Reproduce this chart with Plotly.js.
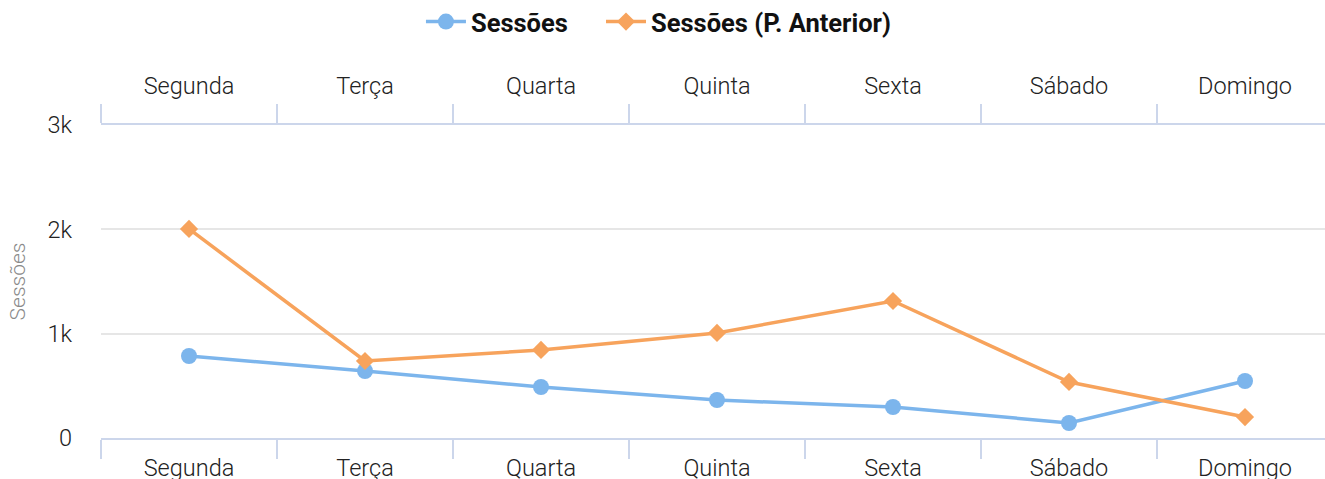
<!DOCTYPE html>
<html>
<head>
<meta charset="utf-8">
<script src="https://cdn.plot.ly/plotly-3.0.1.min.js"></script>
<style>html,body{margin:0;padding:0;background:#fff;}#chart{width:1325px;height:479px;}</style>
</head>
<body>
<div id="chart"></div>
<script>
const categories = ['Segunda','Terça','Quarta','Quinta','Sexta','Sábado','Domingo'];
const sessoes = [786, 642, 489, 364, 297, 144, 546];
const sessoesAnterior = [2004, 738, 844, 1007, 1313, 537, 201];
const yTickVals = [0, 1000, 2000, 3000];
const yTickText = ['0', '1k', '2k', '3k'];
const seriesNames = ['Sessões', 'Sessões (P. Anterior)'];
const yTitle = 'Sessões';

const traces = [
  {
    x: categories, y: sessoes, name: seriesNames[0], type: 'scatter', mode: 'lines+markers',
    line: {color: '#7cb5ec', width: 3.5},
    marker: {symbol: 'circle', size: 16, color: '#7cb5ec'},
    xaxis: 'x', yaxis: 'y', legend: 'legend'
  },
  {
    x: categories, y: sessoesAnterior, name: seriesNames[1], type: 'scatter', mode: 'lines+markers',
    line: {color: '#f7a35c', width: 3.5},
    marker: {symbol: 'diamond', size: 14, color: '#f7a35c'},
    xaxis: 'x', yaxis: 'y', legend: 'legend2'
  },
  {
    x: categories, y: categories.map(() => null), type: 'scatter', mode: 'lines',
    showlegend: false, hoverinfo: 'skip', xaxis: 'x2', yaxis: 'y'
  }
];

const xRange = [-0.5, 6.4545];
const tickFont = {family: 'Roboto', size: 23.5, color: '#222222', weight: 300};
const xCommon = {
  type: 'category', categoryarray: categories, categoryorder: 'array',
  range: xRange, tickson: 'boundaries', ticks: 'outside', ticklen: 19, tickwidth: 2,
  tickcolor: '#ccd6eb', showline: true, linecolor: '#ccd6eb', linewidth: 2,
  showgrid: false, zeroline: false, fixedrange: true,
  tickfont: tickFont
};
const legendFont = {family: 'Roboto', size: 25.5, color: '#111111', weight: 'bold'};

const layout = {
  width: 1325, height: 479,
  margin: {l: 101, r: 0, t: 125, b: 41, autoexpand: false},
  paper_bgcolor: '#ffffff', plot_bgcolor: '#ffffff',
  font: {family: 'Roboto', color: '#333333'},
  showlegend: true,
  legend: {
    orientation: 'h', x: 0.2614, xanchor: 'left', y: 1.329, yanchor: 'middle',
    font: legendFont, itemwidth: 40
  },
  legend2: {
    orientation: 'h', x: 0.4085, xanchor: 'left', y: 1.329, yanchor: 'middle',
    font: legendFont, itemwidth: 40
  },
  xaxis: Object.assign({}, xCommon, {side: 'bottom', anchor: 'y', ticklabelstandoff: 8}),
  xaxis2: Object.assign({}, xCommon, {side: 'top', overlaying: 'x', anchor: 'y', ticklabelstandoff: 20}),
  yaxis: {
    range: [0, 3000], tickvals: yTickVals, ticktext: yTickText,
    showgrid: true, gridcolor: '#e6e6e6', gridwidth: 2, zeroline: false, showline: false,
    ticks: '', ticklabelstandoff: 28, fixedrange: true,
    tickfont: tickFont,
    title: {text: yTitle, font: {family: 'Roboto', size: 21, color: '#8a8a8a', weight: 300}, standoff: 16}
  }
};

Plotly.newPlot('chart', traces, layout, {displayModeBar: false, staticPlot: true});
</script>
</body>
</html>
